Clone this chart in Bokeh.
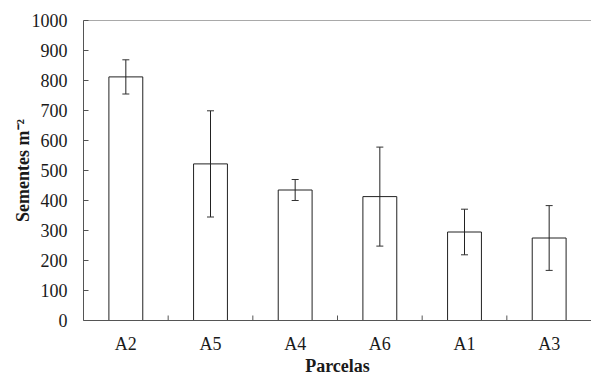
import math
from bokeh.plotting import figure
from bokeh.models import ColumnDataSource, Whisker, TeeHead, Span, Range1d, SingleIntervalTicker
from bokeh.transform import dodge
from bokeh.embed import file_html
from bokeh.resources import INLINE

cats = ["A2", "A5", "A4", "A6", "A1", "A3"]
means = [812, 522, 435, 413, 295, 275]
errs = [57, 177, 35, 165, 76, 108]

upper = [m + e for m, e in zip(means, errs)]
lower = [m - e for m, e in zip(means, errs)]

src = ColumnDataSource(dict(cat=cats, mean=means, upper=upper, lower=lower))
bsrc = ColumnDataSource(dict(cat=cats[:-1], y=[0] * (len(cats) - 1)))

FONT = "Liberation Serif"
AX = "#555555"
TXT = "#1a1a1a"

p = figure(x_range=cats, y_range=Range1d(0, 1000), width=591, height=378,
           output_backend="svg", toolbar_location=None,
           min_border_left=83, min_border_top=20, min_border_right=0, min_border_bottom=58)

p.vbar(x="cat", top="mean", width=0.4, source=src, fill_color="white",
       line_color="#222222", line_width=1)

w = Whisker(base="cat", upper="upper", lower="lower", source=src,
            line_color="#222222", line_width=1, level="overlay",
            upper_head=TeeHead(size=7, line_color="#333333", line_width=1),
            lower_head=TeeHead(size=7, line_color="#333333", line_width=1))
p.add_layout(w)

# category boundary ticks (inside, pointing up)
p.ray(x=dodge("cat", 0.5, range=p.x_range), y="y", length=5, length_units="screen",
      angle=math.pi / 2, source=bsrc, line_color=AX, line_width=1)

p.add_layout(Span(location=1000, dimension="width", line_color=AX, line_width=1))

p.outline_line_color = None
p.xgrid.grid_line_color = None
p.ygrid.grid_line_color = None

xa = p.xaxis[0]
xa.axis_line_color = AX
xa.major_tick_line_color = None
xa.minor_tick_line_color = None
xa.major_label_text_font = FONT
xa.major_label_text_font_size = "18px"
xa.major_label_text_color = TXT
xa.major_label_standoff = 7
xa.axis_label = "Parcelas"
xa.axis_label_text_font = FONT
xa.axis_label_text_font_size = "18px"
xa.axis_label_text_font_style = "bold"
xa.axis_label_text_color = TXT
xa.axis_label_standoff = -1

ya = p.yaxis[0]
ya.ticker = SingleIntervalTicker(interval=100)
ya.axis_line_color = AX
ya.major_tick_line_color = AX
ya.major_tick_in = 5
ya.major_tick_out = 0
ya.minor_tick_line_color = None
ya.major_label_text_font = FONT
ya.major_label_text_font_size = "18px"
ya.major_label_text_color = TXT
ya.major_label_standoff = 12
ya.axis_label = "Sementes m\u207b\u00b2"
ya.axis_label_text_font = FONT
ya.axis_label_text_font_size = "18px"
ya.axis_label_text_font_style = "bold"
ya.axis_label_text_color = TXT
ya.axis_label_standoff = -4

open("out.html", "w").write(file_html(p, INLINE))
